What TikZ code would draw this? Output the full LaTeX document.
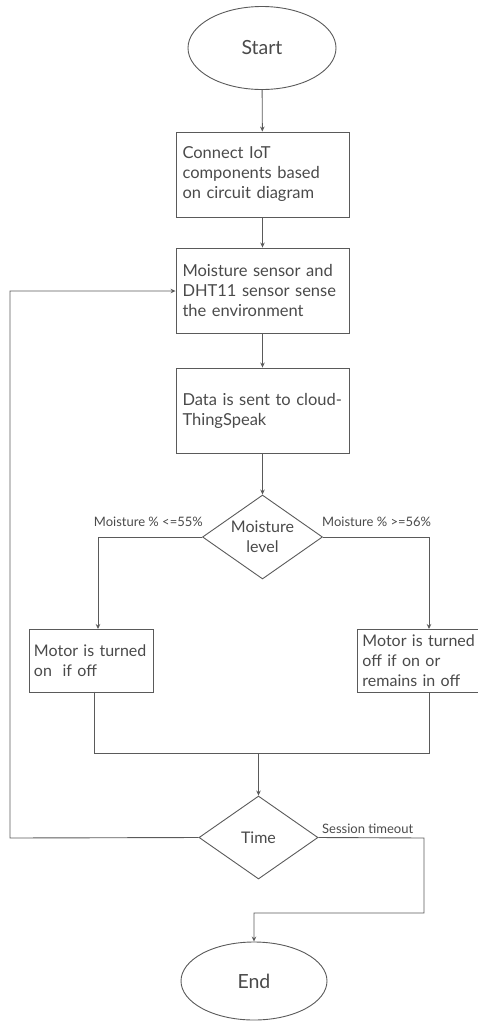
\documentclass[tikz,border=0pt]{standalone}
\usepackage{fontspec}
\setmainfont{Lato}
\usetikzlibrary{arrows.meta,shapes.geometric,calc}
\definecolor{ln}{HTML}{5A5A5A}
\definecolor{tx}{HTML}{4A4A4A}
\begin{document}
\begin{tikzpicture}[x=1pt,y=-1pt,
  every node/.style={text=tx},
  line/.style={draw=ln,line width=0.9pt},
  arr/.style={line,-{Stealth[length=5pt,width=4.5pt]}},
  box/.style={draw=ln,line width=0.9pt,rectangle,align=left,font=\fontsize{16.5}{20}\selectfont,inner xsep=6.5pt,inner ysep=0pt},
  sbox/.style={box,font=\fontsize{16}{20}\selectfont,inner xsep=5pt},
  term/.style={draw=ln,line width=0.9pt,ellipse,inner sep=0pt,font=\fontsize{19.5}{23}\selectfont},
  dec/.style={draw=ln,line width=0.9pt,diamond,inner sep=0pt,aspect=1.43,font=\fontsize{16}{20}\selectfont,align=center},
  lbl/.style={font=\fontsize{13}{15}\selectfont,inner sep=0pt}]
\useasboundingbox (0,0) rectangle (477,1023);
\node[term,minimum width=148pt,minimum height=83pt] (start) at (262,48) {Start};
\node[box,text width=160pt,minimum height=85pt] (b1) at (262.5,174.5) {Connect IoT\\components based\\on circuit diagram};
\node[box,text width=160pt,minimum height=85pt] (b2) at (262.5,290.5) {Moisture sensor and\\DHT11 sensor sense\\the environment};
\node[box,text width=160pt,minimum height=85pt] (b3) at (262.5,410.5) {\mbox{Data is sent to cloud-}\\ThingSpeak\\[12pt]};
\node[dec,minimum width=120pt,minimum height=84pt] (d1) at (262.5,537) {Moisture\\level};
\node[sbox,text width=114pt,minimum height=63pt] (lb) at (91,660.5) {Motor is turned\\on\ \ if off};
\node[sbox,text width=116pt,minimum height=63pt,anchor=west] (rb) at (357,660.5) {Motor is turned\\off if on or\\remains in off};
\node[dec,minimum width=119pt,minimum height=83pt] (d2) at (258.5,837.5) {Time};
\node[term,minimum width=146pt,minimum height=78pt] (end) at (254,981) {End};
\coordinate (lbin) at (98,629);
\coordinate (rbin) at (429,629);
\coordinate (lbout) at (94,691.5);
\coordinate (rbout) at (429,691.5);
\coordinate (merge) at (258.5,753);
\coordinate (fbl) at (10,838);
\coordinate (fbt) at (10,291);
\coordinate (tr) at (424,838);
\coordinate (trb) at (424,913);
\coordinate (tb) at (254,913);
\draw[arr] (start) -- (b1);
\draw[arr] (b1) -- (b2);
\draw[arr] (b2.south -| b3.north) -- (b3);
\draw[arr] (b3) -- (d1);
\draw[arr] (d1.west) -| (lbin);
\draw[arr] (d1.east) -| (rbin);
\draw[line] (lbout) |- (merge) -| (rbout);
\draw[arr] (merge) -- (d2.north);
\draw[arr] (d2.west) -- (fbl) -- (fbt) -- (b2.west |- fbt);
\draw[arr] (d2.east) -- (tr) -- (trb) -- (tb) -- (end.north);
\node[lbl,anchor=south east] (l1) at (203,527) {Moisture \% <=55\%};
\node[lbl,anchor=south west] (l2) at (322,527) {Moisture \% >=56\%};
\node[lbl,anchor=south west] (l3) at (322,834) {Session timeout};
\end{tikzpicture}
\end{document}
